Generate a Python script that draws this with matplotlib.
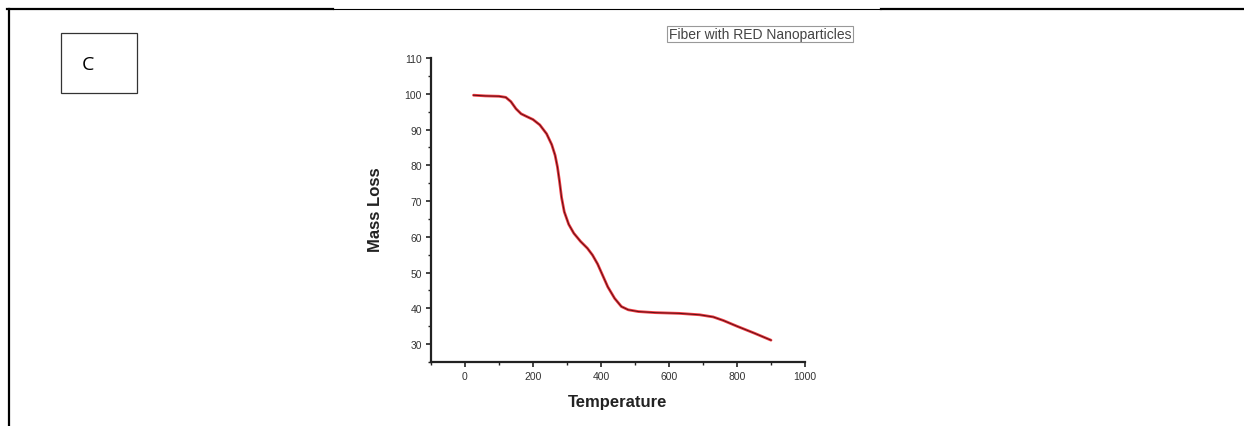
import matplotlib
matplotlib.use('Agg')
import matplotlib.pyplot as plt
from matplotlib.lines import Line2D
from matplotlib.patches import Rectangle
from matplotlib.ticker import MultipleLocator

# TGA curve
temperature = [25, 60, 100, 120, 135, 150, 165, 180, 200, 220, 240, 255, 265, 272,
               278, 284, 292, 305, 320, 340, 360, 375, 390, 405, 420, 440, 460,
               480, 510, 560, 630, 690, 730, 760, 800, 850, 900]
mass_loss = [99.6, 99.4, 99.3, 99.0, 97.8, 95.8, 94.4, 93.7, 92.8, 91.3, 88.8,
             85.8, 82.8, 79.5, 75.5, 71.0, 67.0, 63.5, 61.0, 58.7, 56.8, 54.9,
             52.4, 49.2, 46.0, 42.8, 40.5, 39.6, 39.1, 38.8, 38.6, 38.2, 37.6,
             36.6, 35.0, 33.1, 31.1]
x_ticks = [0, 200, 400, 600, 800, 1000]
y_ticks = [30, 40, 50, 60, 70, 80, 90, 100, 110]
legend_label = 'Fiber with RED Nanoparticles'
panel_label = 'C'

W, H = 1244, 427
fig = plt.figure(figsize=(W / 100, H / 100), dpi=100)
fig.patch.set_facecolor('white')

# page frame (document table borders)
def hline(x0, x1, y, lw):
    fig.add_artist(Line2D([x0 / W, x1 / W], [1 - y / H, 1 - y / H], color='black', lw=lw))

hline(7.5, 333, 10, 1.6)
hline(333, 881, 10, 0.8)
hline(881, W, 10, 1.6)
fig.add_artist(Line2D([8.5 / W, 8.5 / W], [1 - 10 / H, 0], color='black', lw=1.6))

# panel label box
fig.add_artist(Rectangle((61 / W, 1 - 94 / H), 76 / W, 60 / H, transform=fig.transFigure,
                         fill=False, edgecolor='#333333', lw=0.9))
fig.text(87.5 / W, 1 - 65 / H, panel_label, ha='center', va='center', fontsize=14,
         family='Open Sans', color='black')

# main axes
ax = fig.add_axes([431 / W, 64 / H, 374 / W, 304 / H])
ax.plot(temperature, mass_loss, color='#f03a40', lw=2.0, solid_capstyle='round')
ax.plot(temperature, mass_loss, color='#5a1016', lw=0.7)

ax.set_xlim(-100, 1000)
ax.set_ylim(25, 110)
ax.set_xticks(x_ticks)
ax.set_yticks(y_ticks)
ax.xaxis.set_minor_locator(MultipleLocator(100))
ax.yaxis.set_minor_locator(MultipleLocator(5))

for side in ['top', 'right']:
    ax.spines[side].set_visible(False)
for side in ['left', 'bottom']:
    ax.spines[side].set_linewidth(1.6)
    ax.spines[side].set_color('#222222')

ax.tick_params(which='major', direction='out', length=3.5, width=1.2, color='#222222',
               labelsize=7.5, labelcolor='#333333', pad=3)
ax.tick_params(which='minor', direction='out', length=2, width=1.0, color='#222222')
for lab in ax.get_xticklabels() + ax.get_yticklabels():
    lab.set_family('Liberation Sans')

ax.set_xlabel('Temperature', fontsize=12, fontweight='bold', family='Liberation Sans',
              color='#222222')
ax.set_ylabel('Mass Loss', fontsize=12, fontweight='bold', family='Liberation Sans',
              color='#222222')
ax.xaxis.set_label_coords(0.5, -0.105)
ax.yaxis.set_label_coords(-0.128, 0.503)

# legend box as drawn in the original
fig.text(760 / W, 1 - 35 / H, legend_label, ha='center', va='center', fontsize=10,
         family='Liberation Sans', color='#444444',
         bbox=dict(boxstyle='square,pad=0.1', facecolor='white', edgecolor='#999999', lw=0.8))

fig.savefig('out.png', dpi=100, facecolor='white')
